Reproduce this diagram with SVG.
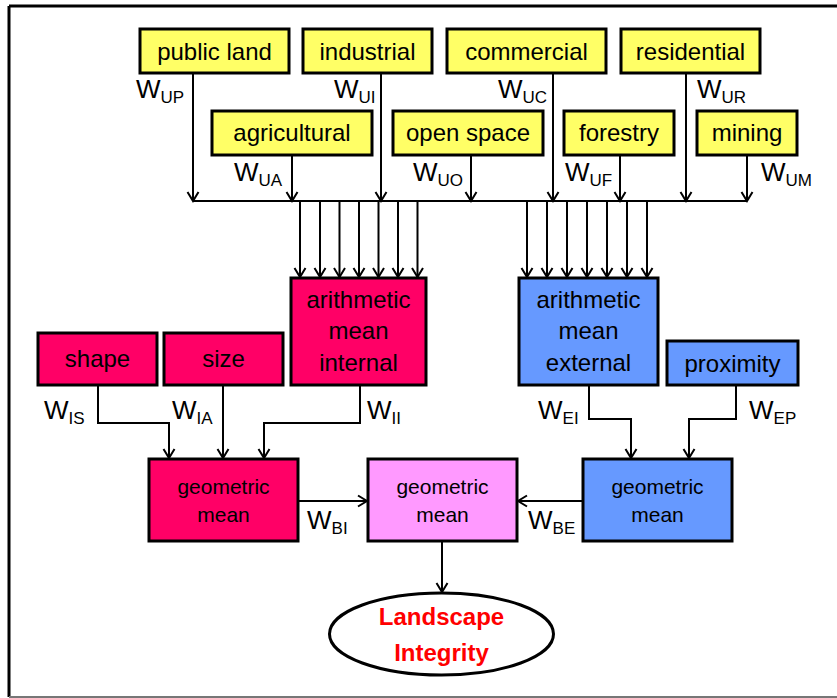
<svg xmlns="http://www.w3.org/2000/svg" width="837" height="698" viewBox="0 0 837 698">
  <defs>
    <marker id="arrow" markerUnits="userSpaceOnUse" markerWidth="14" markerHeight="14" viewBox="-12 -7 14 14" refX="0" refY="0" orient="auto">
      <path d="M-9,-5.5 L0,0 L-9,5.5" fill="none" stroke="#000" stroke-width="2"/>
    </marker>
    <style>
      text { font-family: "Liberation Sans", Arial, sans-serif; fill: #000; }
      .box { stroke: #000; stroke-width: 3; }
      .yellow { fill: #FFFF66; }
      .mag { fill: #FF0066; }
      .blue { fill: #6699FF; }
      .pink { fill: #FF99FF; }
      .lbl { font-size: 24px; text-anchor: middle; }
      .sm { font-size: 21px; text-anchor: middle; }
      .w { font-size: 26px; }
      .sub { font-size: 17px; }
      .wire { fill: none; stroke: #000; stroke-width: 2; }
      .arr { fill: none; stroke: #000; stroke-width: 2; marker-end: url(#arrow); }
      .out { font-size: 24px; font-weight: bold; fill: #FF0000; text-anchor: middle; }
    </style>
  </defs>

  <!-- frame -->
  <g id="frame">
    <line x1="9" y1="6" x2="837" y2="6" stroke="#000" stroke-width="3"/>
    <line x1="9" y1="6" x2="9" y2="697" stroke="#000" stroke-width="3"/>
    <line x1="9" y1="697" x2="837" y2="697" stroke="#777" stroke-width="2"/>
  </g>

  <!-- land-use inputs -->
  <g id="public-land"><rect class="box yellow" x="140" y="29" width="149" height="44"/><text class="lbl" x="214.5" y="60">public land</text></g>
  <g id="industrial"><rect class="box yellow" x="303" y="29" width="129" height="44"/><text class="lbl" x="367.5" y="60">industrial</text></g>
  <g id="commercial"><rect class="box yellow" x="447" y="29" width="159" height="44"/><text class="lbl" x="526.5" y="60">commercial</text></g>
  <g id="residential"><rect class="box yellow" x="621" y="29" width="139" height="44"/><text class="lbl" x="690.5" y="60">residential</text></g>
  <g id="agricultural"><rect class="box yellow" x="212" y="111" width="160" height="44"/><text class="lbl" x="292" y="141">agricultural</text></g>
  <g id="open-space"><rect class="box yellow" x="393" y="111" width="150" height="44"/><text class="lbl" x="468" y="141">open space</text></g>
  <g id="forestry"><rect class="box yellow" x="564" y="111" width="110" height="44"/><text class="lbl" x="619" y="141">forestry</text></g>
  <g id="mining"><rect class="box yellow" x="697" y="111" width="100" height="44"/><text class="lbl" x="747" y="141">mining</text></g>

  <!-- intermediate nodes -->
  <g id="arith-internal"><rect class="box mag" x="291" y="278" width="135" height="107"/>
    <text class="lbl" x="358.5" y="308">arithmetic</text><text class="lbl" x="358.5" y="339">mean</text><text class="lbl" x="358.5" y="371">internal</text></g>
  <g id="arith-external"><rect class="box blue" x="519" y="278" width="139" height="107"/>
    <text class="lbl" x="588.5" y="308">arithmetic</text><text class="lbl" x="588.5" y="339">mean</text><text class="lbl" x="588.5" y="371">external</text></g>
  <g id="shape"><rect class="box mag" x="38" y="333" width="119" height="52"/><text class="lbl" x="97.5" y="367">shape</text></g>
  <g id="size"><rect class="box mag" x="164" y="333" width="119" height="52"/><text class="lbl" x="223.5" y="367">size</text></g>
  <g id="proximity"><rect class="box blue" x="667" y="341" width="131" height="44"/><text class="lbl" x="732.5" y="372">proximity</text></g>

  <g id="geo-internal"><rect class="box mag" x="149" y="459" width="149" height="82"/>
    <text class="sm" x="223.5" y="494">geometric</text><text class="sm" x="223.5" y="522">mean</text></g>
  <g id="geo-overall"><rect class="box pink" x="368" y="459" width="149" height="82"/>
    <text class="sm" x="442.5" y="494">geometric</text><text class="sm" x="442.5" y="522">mean</text></g>
  <g id="geo-external"><rect class="box blue" x="583" y="459" width="149" height="82"/>
    <text class="sm" x="657.5" y="494">geometric</text><text class="sm" x="657.5" y="522">mean</text></g>

  <g id="landscape-integrity">
    <ellipse cx="441.5" cy="634" rx="112" ry="41" fill="#fff" stroke="#000" stroke-width="3"/>
    <text class="out" x="441.5" y="625">Landscape</text>
    <text class="out" x="441.5" y="661">Integrity</text>
  </g>

  <!-- connectors -->
  <g id="connectors">
    <!-- land uses down to the bus -->
    <path class="arr" d="M193,73 V201"/>
    <path class="arr" d="M381,73 V201"/>
    <path class="arr" d="M553,73 V201"/>
    <path class="arr" d="M686,73 V201"/>
    <path class="arr" d="M292,155 V201"/>
    <path class="arr" d="M471,155 V201"/>
    <path class="arr" d="M620,155 V201"/>
    <path class="arr" d="M747,155 V201"/>
    <line class="wire" x1="193" y1="201" x2="747" y2="201"/>
    <!-- bus to arithmetic means -->
    <path class="arr" d="M300,201 V277"/>
    <path class="arr" d="M320,201 V277"/>
    <path class="arr" d="M339.5,201 V277"/>
    <path class="arr" d="M359,201 V277"/>
    <path class="arr" d="M378.5,201 V277"/>
    <path class="arr" d="M398,201 V277"/>
    <path class="arr" d="M417.5,201 V277"/>
    <path class="arr" d="M527,201 V277"/>
    <path class="arr" d="M547,201 V277"/>
    <path class="arr" d="M567,201 V277"/>
    <path class="arr" d="M587,201 V277"/>
    <path class="arr" d="M607,201 V277"/>
    <path class="arr" d="M627,201 V277"/>
    <path class="arr" d="M647,201 V277"/>
    <!-- internal branch -->
    <path class="arr" d="M98,385 V423 H169 V458"/>
    <path class="arr" d="M223,385 V458"/>
    <path class="arr" d="M360,385 V423 H264 V458"/>
    <!-- external branch -->
    <path class="arr" d="M589,385 V419 H631 V458"/>
    <path class="arr" d="M736,385 V419 H689 V458"/>
    <!-- into overall mean -->
    <path class="arr" d="M298,501 H367"/>
    <path class="arr" d="M583,501 H518"/>
    <path class="arr" d="M442,541 V592"/>
  </g>

  <!-- weights -->
  <g id="weights">
    <text x="136" y="98"><tspan class="w">W</tspan><tspan class="sub" dy="5">UP</tspan></text>
    <text x="334" y="98"><tspan class="w">W</tspan><tspan class="sub" dy="5">UI</tspan></text>
    <text x="498" y="98"><tspan class="w">W</tspan><tspan class="sub" dy="5">UC</tspan></text>
    <text x="697" y="98"><tspan class="w">W</tspan><tspan class="sub" dy="5">UR</tspan></text>
    <text x="234" y="181"><tspan class="w">W</tspan><tspan class="sub" dy="5">UA</tspan></text>
    <text x="413" y="181"><tspan class="w">W</tspan><tspan class="sub" dy="5">UO</tspan></text>
    <text x="565" y="181"><tspan class="w">W</tspan><tspan class="sub" dy="5">UF</tspan></text>
    <text x="761" y="181"><tspan class="w">W</tspan><tspan class="sub" dy="5">UM</tspan></text>
    <text x="44" y="419"><tspan class="w">W</tspan><tspan class="sub" dy="5">IS</tspan></text>
    <text x="172" y="419"><tspan class="w">W</tspan><tspan class="sub" dy="5">IA</tspan></text>
    <text x="367" y="419"><tspan class="w">W</tspan><tspan class="sub" dy="5">II</tspan></text>
    <text x="538" y="419"><tspan class="w">W</tspan><tspan class="sub" dy="5">EI</tspan></text>
    <text x="749" y="419"><tspan class="w">W</tspan><tspan class="sub" dy="5">EP</tspan></text>
    <text x="307" y="529"><tspan class="w">W</tspan><tspan class="sub" dy="5">BI</tspan></text>
    <text x="528" y="529"><tspan class="w">W</tspan><tspan class="sub" dy="5">BE</tspan></text>
  </g>
</svg>
